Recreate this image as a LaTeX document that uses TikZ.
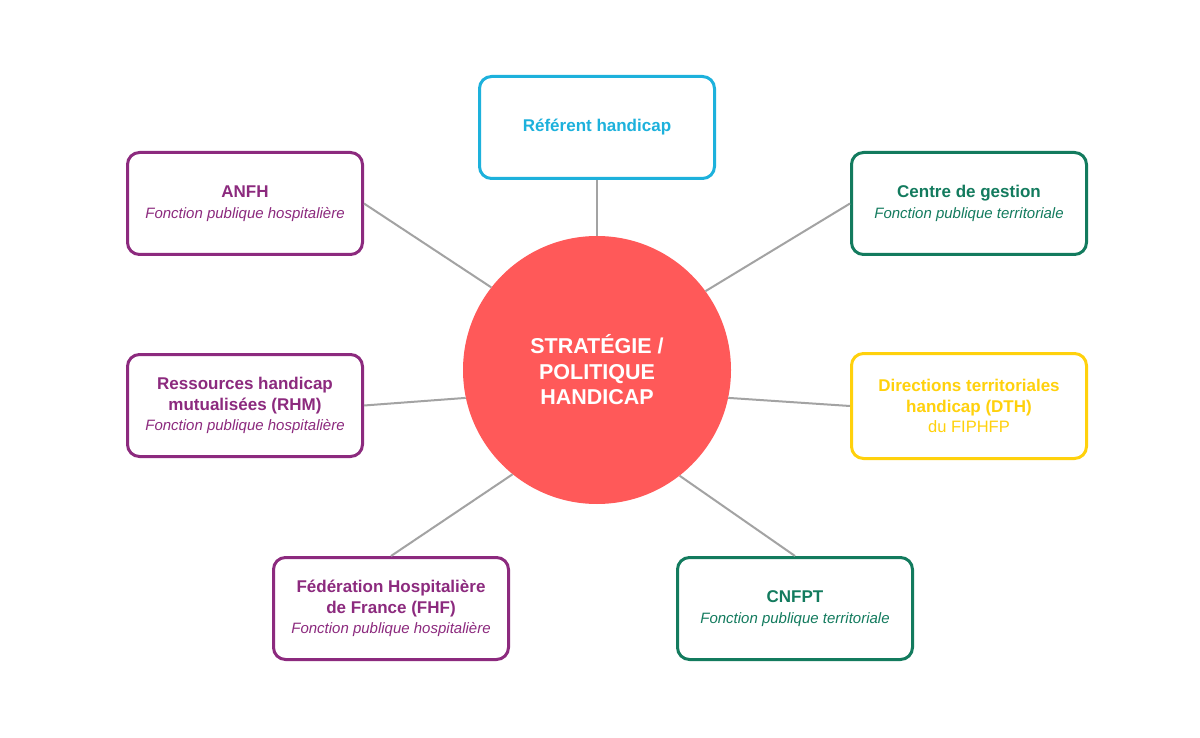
\documentclass[tikz,border=0pt]{standalone}
\usepackage{fontspec}
\setmainfont{Liberation Sans}
\definecolor{cpurple}{HTML}{8C2A7E}
\definecolor{cgreen}{HTML}{137B5E}
\definecolor{ccyan}{HTML}{1DB1DC}
\definecolor{cyellow}{HTML}{FFD10C}
\definecolor{cred}{HTML}{FF5959}
\definecolor{cline}{HTML}{A3A3A3}
\newcommand{\ttlA}[1]{{\fontsize{17}{20.5}\selectfont\bfseries #1}}
\newcommand{\subA}[1]{{\fontsize{15}{20.5}\selectfont\itshape #1}}
\newcommand{\subB}[1]{{\fontsize{16.5}{20.5}\selectfont #1}}
\begin{document}
\begin{tikzpicture}[x=1pt,y=-1pt,
  box/.style={draw, rectangle, rounded corners=12pt, line width=3pt,
    minimum width=235pt, minimum height=102pt, align=center, fill=white,
    font=\fontsize{17}{20.5}\selectfont},
  link/.style={draw=cline, line width=2pt}]
\useasboundingbox (0,0) rectangle (1200,738);
\fill[white] (0,0) rectangle (1200,738);
\node[circle, fill=cred, minimum size=268pt, inner sep=0pt, text=white, align=center,
  font=\fontsize{21.5}{25.5}\selectfont\bfseries] (c) at (597,370) {STRATÉGIE /\\POLITIQUE\\HANDICAP};
\node[box, draw=ccyan, text=ccyan] (ref) at (597,127.5) {\ttlA{Référent handicap}};
\node[box, draw=cpurple, text=cpurple] (anfh) at (245,203.5) {\ttlA{ANFH}\\\subA{Fonction publique hospitalière}};
\node[box, draw=cgreen, text=cgreen] (cdg) at (969,203.5) {\ttlA{Centre de gestion}\\\subA{Fonction publique territoriale}};
\node[box, draw=cpurple, text=cpurple] (rhm) at (245,405.5) {\ttlA{Ressources handicap}\\\ttlA{mutualisées (RHM)}\\\subA{Fonction publique hospitalière}};
\node[box, draw=cyellow, text=cyellow, minimum height=105pt] (dth) at (969,406) {\ttlA{Directions territoriales}\\\ttlA{handicap (DTH)}\\\subB{du FIPHFP}};
\node[box, draw=cpurple, text=cpurple] (fhf) at (391,608.5) {\ttlA{Fédération Hospitalière}\\\ttlA{de France (FHF)}\\\subA{Fonction publique hospitalière}};
\node[box, draw=cgreen, text=cgreen] (cnfpt) at (795,608.5) {\ttlA{CNFPT}\\\subA{Fonction publique territoriale}};
\draw[link] (ref.south) -- (c.90);
\draw[link] (anfh.east) -- (c.142);
\draw[link] (cdg.west) -- (c.36);
\draw[link] (rhm.east) -- (c.192);
\draw[link] (dth.west) -- (c.348);
\draw[link] (fhf.north) -- (c.231);
\draw[link] (cnfpt.north) -- (c.308);
\end{tikzpicture}
\end{document}
